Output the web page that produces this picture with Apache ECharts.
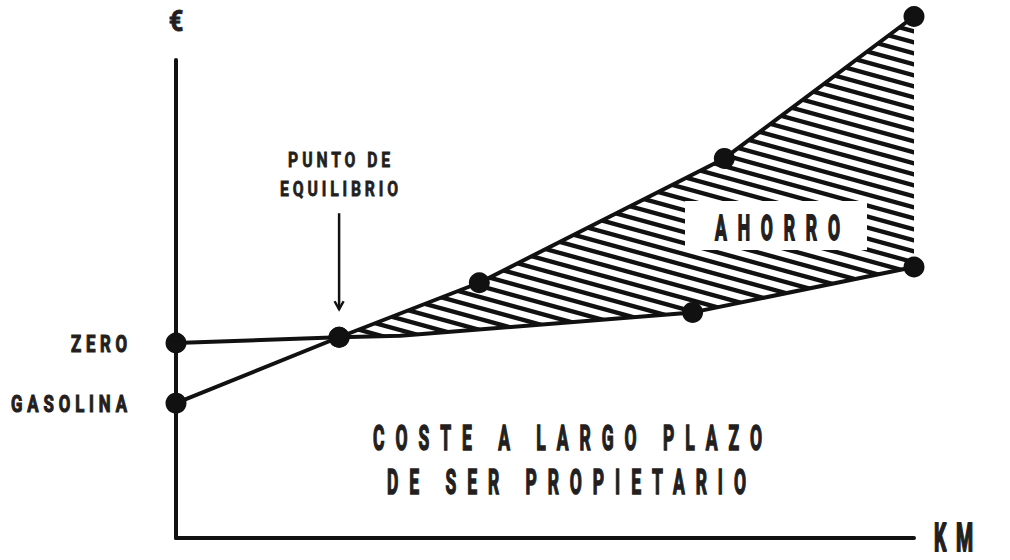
<!DOCTYPE html>
<html><head><meta charset="utf-8">
<script src="https://cdn.jsdelivr.net/npm/echarts@6/dist/echarts.min.js"></script>
<style>html,body{margin:0;padding:0;background:#fff}#c{width:1010px;height:560px}</style>
</head><body><div id="c"></div>
<script>
// ---- data ----
const gasolinaKm   = [0, 22.1, 41.1, 74.3, 100];
const gasolinaCost = [28.2, 42.0, 53.4, 79.4, 109.1];
const zeroKm   = [0, 22.1, 30.4, 70.0, 100];
const zeroCost = [40.8, 42.0, 42.3, 47.2, 56.7];
const zeroMarked = [true, true, false, true, true];
const breakEvenIndex = 1;
const seriesNames = ['GASOLINA', 'ZERO'];
const axisNameX = 'KM';
const axisNameY = '€';
const breakEvenLabel = ['PUNTO DE', 'EQUILIBRIO'];
const savingsLabel = 'AHORRO';
const ownershipLabel = ['COSTE A LARGO PLAZO', 'DE SER PROPIETARIO'];

const INK = '#111111';
const TXT = '#231f20';
const FONT = "Roboto, 'DejaVu Sans', sans-serif";

function hatchTile() {
  const w = 40, h = 11;
  const c = document.createElement('canvas');
  c.width = w; c.height = h;
  const g = c.getContext('2d');
  g.strokeStyle = INK; g.lineWidth = 4.4;
  const m = h / w;
  for (let k = -2; k <= 2; k++) {
    g.beginPath();
    g.moveTo(-10, -10 * m + k * h);
    g.lineTo(w + 10, (w + 10) * m + k * h);
    g.stroke();
  }
  return c;
}
const tile = hatchTile();

const gasData = gasolinaKm.map((x, i) => [x, gasolinaCost[i]]);
const zeroData = zeroKm.map((x, i) => [x, zeroCost[i]]);
const dots = gasData.concat(zeroData.filter((d, i) => zeroMarked[i]));

const chart = echarts.init(document.getElementById('c'), null, {renderer: 'svg'});
const axisCommon = {
  type: 'value', min: 0, max: 100,
  axisLine: {show: true, onZero: false, lineStyle: {color: INK, width: 4, cap: 'round'}},
  axisTick: {show: false}, axisLabel: {show: false}, splitLine: {show: false}
};
chart.setOption({
  animation: false,
  grid: {left: 176, right: 96, top: 60, bottom: 22, containLabel: false},
  xAxis: Object.assign({}, axisCommon),
  yAxis: Object.assign({}, axisCommon),
  series: [
    {
      type: 'custom', coordinateSystem: 'cartesian2d', data: [[0, 0]], clip: false, silent: true, z: 1,
      renderItem: function (params, api) {
        const pts = [];
        for (let i = breakEvenIndex; i < gasData.length; i++) pts.push(api.coord(gasData[i]));
        for (let i = zeroData.length - 1; i >= breakEvenIndex; i--) pts.push(api.coord(zeroData[i]));
        return {type: 'polygon', shape: {points: pts},
          style: {fill: {image: tile, repeat: 'repeat', imageWidth: 40, imageHeight: 11}, stroke: null}};
      }
    },
    {name: seriesNames[0], type: 'line', data: gasData, symbol: 'none', clip: false, z: 3,
     lineStyle: {color: INK, width: 4, join: 'round'}},
    {name: seriesNames[1], type: 'line', data: zeroData, symbol: 'none', clip: false, z: 3,
     lineStyle: {color: INK, width: 4, join: 'round'}},
    {type: 'scatter', data: dots, symbolSize: 21, clip: false, z: 4, silent: true,
     itemStyle: {color: INK, opacity: 1}}
  ]
});

const px = d => chart.convertToPixel({gridIndex: 0}, d);
const fitMap = {};
function txt(text, x, y, size, align, s, visW, sw) {
  if (visW) fitMap[text] = visW / s;
  return {type: 'text', x: x, y: y, scaleX: s, z: 100, silent: true,
    style: {text: text, x: 0, y: 0, fill: TXT, stroke: TXT, lineWidth: sw,
      font: 'bold ' + size + 'px ' + FONT, textAlign: align, textVerticalAlign: 'middle'}};
}
const pGas0 = px(gasData[0]);
const pZero0 = px(zeroData[0]);
const pBE = px(gasData[breakEvenIndex]);
const pEnd = px([100, 0]);
const pTop = px([0, 100]);

const graphic = [
  txt(axisNameY, pTop[0], pTop[1] - 39, 30, 'center', 0.85, 0, 0.8),
  txt(axisNameX, pEnd[0] + 39.5, pEnd[1] - 0.5, 39, 'center', 0.5, 39, 2),
  txt(seriesNames[1], pZero0[0] - 49, pZero0[1] + 1, 24, 'right', 0.7, 56, 1.2),
  txt(seriesNames[0], pGas0[0] - 49, pGas0[1] + 0.5, 24, 'right', 0.7, 116, 1.2),
  txt(breakEvenLabel[0], pBE[0], pBE[1] - 177, 21, 'center', 0.75, 102, 0.8),
  txt(breakEvenLabel[1], pBE[0], pBE[1] - 148, 21, 'center', 0.75, 118, 0.8),
  {type: 'polyline', z: 100, silent: true, shape: {points: [[pBE[0], pBE[1] - 124], [pBE[0], pBE[1] - 28]]},
   style: {stroke: INK, lineWidth: 2.5, fill: null}},
  {type: 'polyline', z: 100, silent: true,
   shape: {points: [[pBE[0] - 4.5, pBE[1] - 36], [pBE[0], pBE[1] - 28], [pBE[0] + 4.5, pBE[1] - 36]]},
   style: {stroke: INK, lineWidth: 2.5, fill: null}},
  {type: 'rect', z: 90, silent: true, shape: {x: 685, y: 201, width: 182, height: 49}, style: {fill: '#fff'}},
  txt(savingsLabel, 777.5, 227.5, 35, 'center', 0.5, 125, 1.8),
  txt(ownershipLabel[0], 567.5, 437.5, 35, 'center', 0.5, 389, 1.6),
  txt(ownershipLabel[1], 566.5, 482, 35, 'center', 0.5, 359, 1.6)
];
chart.setOption({graphic: graphic});

function fitTexts() {
  document.querySelectorAll('#c svg text').forEach(t => {
    const w = fitMap[t.textContent];
    if (w) { t.setAttribute('textLength', w.toFixed(1)); t.setAttribute('lengthAdjust', 'spacing'); }
  });
}
fitTexts();
chart.on('finished', fitTexts);
setTimeout(fitTexts, 30);
setTimeout(fitTexts, 200);
</script></body></html>
